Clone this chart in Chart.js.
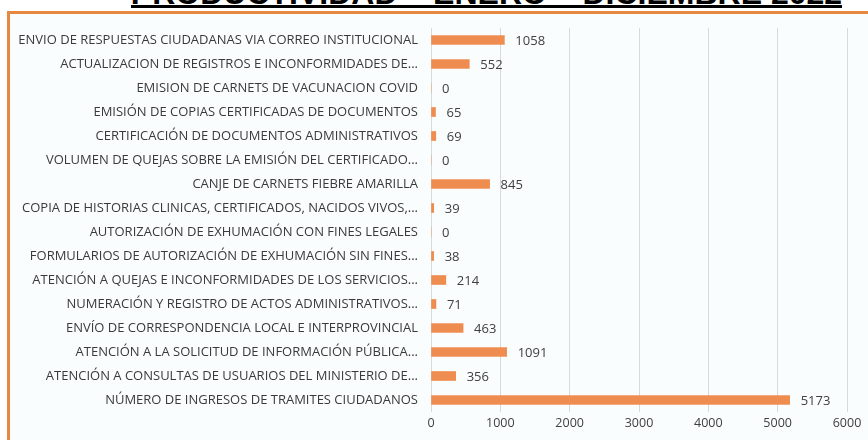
<!DOCTYPE html>
<html>
<head>
<meta charset="utf-8">
<script src="https://cdn.jsdelivr.net/npm/chart.js@4/dist/chart.umd.min.js"></script>
<style>
  html, body { margin: 0; padding: 0; background: #ffffff; overflow: hidden; }
  #wrap { position: relative; width: 868px; height: 440px; overflow: hidden; background: #FAFDFD; }
  #title {
    position: absolute; left: 100px; top: -23px; width: 773px;
    font: bold 32px "Liberation Sans", Arial, sans-serif; color: #000;
    white-space: nowrap; text-align: center; line-height: 32px;
  }
  #uline { position: absolute; left: 131px; top: 5px; width: 711px; height: 3px; background: #000; }
  #topWhite { position: absolute; left: 0; top: 0; width: 868px; height: 11px; background: #fff; }
  #leftWhite { position: absolute; left: 0; top: 0; width: 7px; height: 440px; background: #fff; }
  #lineTop { position: absolute; left: 7px; top: 11px; width: 861px; height: 3px; background: #E8873F; }
  #lineLeft { position: absolute; left: 7px; top: 11px; width: 3px; height: 429px; background: #E8873F; }
  #box { position: absolute; left: 0; top: 0; width: 868px; height: 440px; }
</style>
</head>
<body>
<div id="wrap">
  <div id="topWhite"></div>
  <div id="leftWhite"></div>
  <div id="title">PRODUCTIVIDAD – ENERO – DICIEMBRE 2022</div>
  <div id="uline"></div>
  <div id="lineTop"></div>
  <div id="lineLeft"></div>
  <div id="box"><canvas id="myBarChart"></canvas></div>
</div>
<script>
// categories, top to bottom as in the picture
const tramites = [
    'ENVIO DE RESPUESTAS CIUDADANAS VIA CORREO INSTITUCIONAL',
    'ACTUALIZACION DE REGISTROS E INCONFORMIDADES DE...',
    'EMISION DE CARNETS DE VACUNACION COVID',
    'EMISIÓN DE COPIAS CERTIFICADAS DE DOCUMENTOS',
    'CERTIFICACIÓN DE DOCUMENTOS ADMINISTRATIVOS',
    'VOLUMEN DE QUEJAS SOBRE LA EMISIÓN DEL CERTIFICADO...',
    'CANJE DE CARNETS FIEBRE AMARILLA',
    'COPIA DE HISTORIAS CLINICAS, CERTIFICADOS, NACIDOS VIVOS,...',
    'AUTORIZACIÓN DE EXHUMACIÓN CON FINES LEGALES',
    'FORMULARIOS DE AUTORIZACIÓN DE EXHUMACIÓN SIN FINES...',
    'ATENCIÓN A QUEJAS E INCONFORMIDADES DE LOS SERVICIOS...',
    'NUMERACIÓN Y REGISTRO DE ACTOS ADMINISTRATIVOS...',
    'ENVÍO DE CORRESPONDENCIA LOCAL E INTERPROVINCIAL',
    'ATENCIÓN A LA SOLICITUD DE INFORMACIÓN PÚBLICA...',
    'ATENCIÓN A CONSULTAS DE USUARIOS DEL MINISTERIO DE...',
    'NÚMERO DE INGRESOS DE TRAMITES CIUDADANOS'
];
const cantidades = [1058, 552, 0, 65, 69, 0, 845, 39, 0, 38, 214, 71, 463, 1091, 356, 5173];
const ejeMax = 6000;
const ejePaso = 1000;

// value labels at the end of each bar
const valueLabels = {
    id: 'valueLabels',
    afterDatasetsDraw(chart) {
        const c = chart.ctx;
        const meta = chart.getDatasetMeta(0);
        c.save();
        c.font = '13px "Open Sans", sans-serif';
        c.fillStyle = '#404040';
        c.textAlign = 'left';
        c.textBaseline = 'middle';
        meta.data.forEach((bar, i) => {
            c.fillText(String(cantidades[i]), bar.x + 11, bar.y + 1);
        });
        c.restore();
    }
};

const ctx = document.getElementById('myBarChart').getContext('2d');
const myBarChart = new Chart(ctx, {
    type: 'bar',
    data: {
        labels: tramites,
        datasets: [{
            label: 'Productividad',
            data: cantidades,
            backgroundColor: '#EF8C50',
            barThickness: 9
        }]
    },
    options: {
        indexAxis: 'y',
        responsive: true,
        maintainAspectRatio: false,
        animation: false,
        layout: { padding: { top: 28, right: 21, left: 0, bottom: 0 } },
        plugins: { legend: { display: false }, tooltip: { enabled: false } },
        scales: {
            x: {
                min: 0,
                max: ejeMax,
                ticks: {
                    stepSize: ejePaso,
                    color: '#404040',
                    padding: 4,
                    font: { family: 'Open Sans', size: 12.5 },
                    callback: (v) => String(v)
                },
                grid: { color: '#D9D9D9', drawTicks: false },
                border: { display: false },
                afterFit(scale) { scale.height = 28; }
            },
            y: {
                ticks: {
                    color: '#3A3A3A',
                    padding: 13,
                    autoSkip: false,
                    font: { family: 'Open Sans', size: 13 }
                },
                grid: { display: false, drawTicks: false },
                border: { display: false },
                afterFit(scale) { scale.width = 431; }
            }
        }
    },
    plugins: [valueLabels]
});
</script>
</body>
</html>
